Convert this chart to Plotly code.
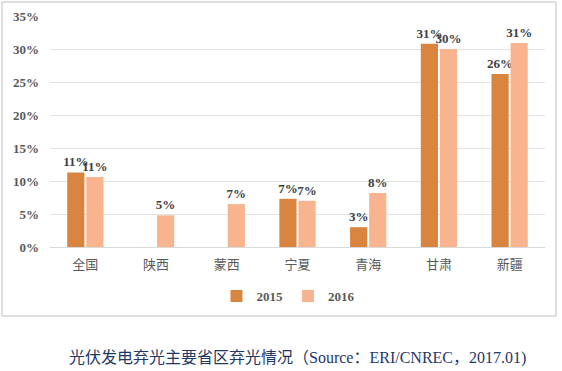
import plotly.graph_objects as go

categories = ["全国", "陕西", "蒙西", "宁夏", "青海", "甘肃", "新疆"]
values_2015 = [11.3, None, None, 7.3, 3.0, 30.8, 26.2]
values_2016 = [10.6, 4.8, 6.5, 7.0, 8.2, 30.0, 30.9]
series_names = ["2015", "2016"]
y_ticks = [0, 5, 10, 15, 20, 25, 30, 35]
caption = "光伏发电弃光主要省区弃光情况（Source：ERI/CNREC，2017.01)"

serif = "Liberation Serif, Times New Roman, serif"
colors = ["#D9843F", "#F8B48E"]

fig = go.Figure()
for name, vals, col in zip(series_names, [values_2015, values_2016], colors):
    fig.add_trace(go.Bar(
        x=categories, y=vals, name=name,
        marker=dict(color=col, line=dict(width=0)),
        texttemplate="%{y:.0f}%", textposition="outside",
        textfont=dict(family=serif, size=13, color="#404040", weight="bold"),
        constraintext="none",
        cliponaxis=False,
    ))

fig.update_layout(
    width=562, height=371,
    margin=dict(l=50, r=17, t=16, b=124, autoexpand=False),
    paper_bgcolor="white", plot_bgcolor="white",
    barmode="group", bargap=0.46, bargroupgap=0.1,
    showlegend=True,
    legend=dict(orientation="h", x=(288 - 50) / 495, xanchor="center",
                y=(247 - 296) / 231, yanchor="middle",
                bgcolor="rgba(0,0,0,0)",
                font=dict(family=serif, size=13, color="#595959", weight="bold"),
                itemwidth=30, traceorder="normal", tracegroupgap=0),
    xaxis=dict(tickfont=dict(family="Noto Sans CJK SC", size=13, color="#595959"),
               showgrid=False, showline=False, ticks="", ticklabelstandoff=8,
               automargin=False),
    yaxis=dict(range=[0, 35], tickvals=y_ticks, ticktext=[f"{v}%" for v in y_ticks],
               tickfont=dict(family=serif, size=13, color="#595959", weight="bold"),
               showgrid=True, gridcolor="#E3E3E3", gridwidth=1,
               zeroline=True, zerolinecolor="#D9D9D9", zerolinewidth=1,
               showline=False, ticks="", ticklabelstandoff=10, automargin=False),
    font=dict(family=serif),
)

fig.add_shape(type="rect", xref="paper", yref="paper",
              x0=(2 - 50) / 495, x1=(556 - 50) / 495,
              y0=(247 - 316) / 231, y1=(247 - 2) / 231,
              line=dict(color="#BFBFBF", width=1), fillcolor="rgba(0,0,0,0)", layer="below")

fig.add_annotation(text=caption, xref="paper", yref="paper",
                   x=(297 - 50) / 495, y=(247 - 358) / 231, xanchor="center", yanchor="middle",
                   showarrow=False,
                   font=dict(family="Liberation Serif, Noto Sans CJK SC", size=16, color="#1F3864"))

fig.write_html("out.html", config={"displayModeBar": False},
               post_script="document.body.style.margin='0';document.body.style.overflow='hidden';")
